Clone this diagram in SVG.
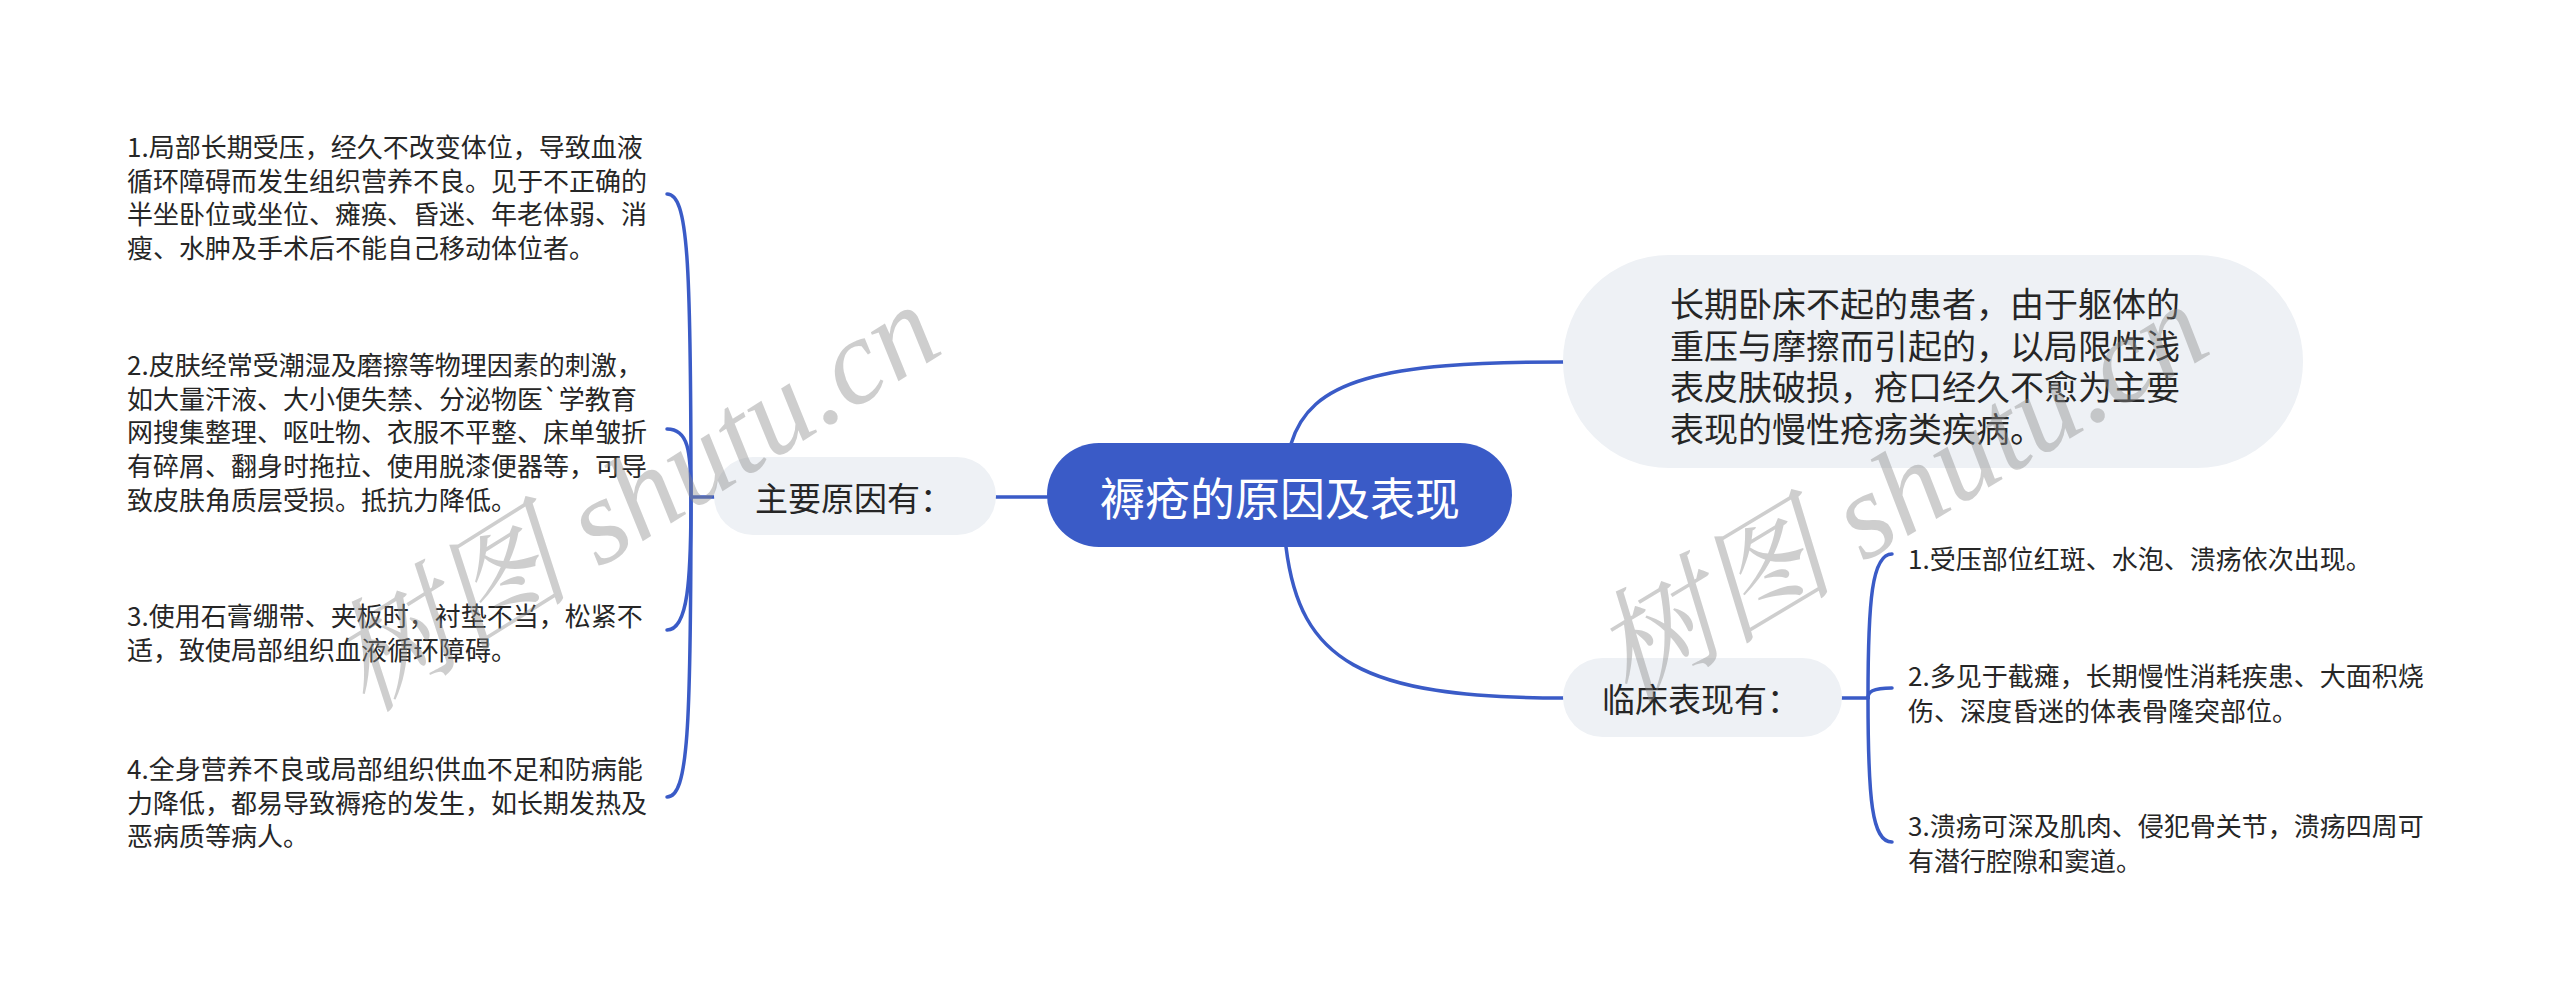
<svg xmlns="http://www.w3.org/2000/svg" width="2560" height="1000" viewBox="0 0 2560 1000">
<style>
.t{font-family:"Noto Sans CJK SC","Noto Sans",sans-serif;fill:#262626;dominant-baseline:central}
.leaf{font-size:26px}
.sub{font-size:33px}
.big{font-size:34px}
.gray{fill:#eef1f5}
.conn{fill:none;stroke:#3a5bc7;stroke-width:3.5;stroke-linecap:round}
.wm{font-family:"Liberation Serif","Noto Serif CJK SC","Noto Sans CJK SC",serif;font-style:italic;font-size:122px;fill:#8a8a8a;fill-opacity:0.42}
</style>
<rect width="2560" height="1000" fill="#ffffff"/>
<g id="connectors">
<path class="conn" d="M1047,497 L996,497"/>
<path class="conn" d="M1291,444 C1310,380 1380,362 1563,362"/>
<path class="conn" d="M1286,547 C1300,660 1360,698 1563,698"/>
<path class="conn" d="M714,497 L691,497"/>
<path class="conn" d="M691,497 C691,260 688,194 667,194"/>
<path class="conn" d="M691,497 C691,450 688,429 667,429"/>
<path class="conn" d="M691,497 C691,580 688,630 667,630"/>
<path class="conn" d="M691,497 C691,730 688,797 667,797"/>
<path class="conn" d="M1842,698 L1868,698"/>
<path class="conn" d="M1868,698 C1868,600 1872,554 1892,554"/>
<path class="conn" d="M1868,698 C1868,692 1872,688 1892,688"/>
<path class="conn" d="M1868,698 C1868,800 1872,842 1892,842"/>
</g>
<g id="root">
<rect x="1047" y="443" width="465" height="104" rx="52" fill="#3a5bc7"/>
<text class="t" x="1280" y="496" text-anchor="middle" style="font-size:45px;fill:#ffffff">褥疮的原因及表现</text>
</g>
<g id="causes">
<rect class="gray" x="714" y="457" width="282" height="78" rx="39"/>
<text class="t sub" x="755" y="497">主要原因有：</text>
</g>
<g id="definition">
<rect class="gray" x="1563" y="255" width="740" height="213" rx="106"/>
<text class="t big" x="1670"><tspan x="1670" y="302">长期卧床不起的患者，由于躯体的</tspan><tspan x="1670" y="343.7">重压与摩擦而引起的，以局限性浅</tspan><tspan x="1670" y="385.4">表皮肤破损，疮口经久不愈为主要</tspan><tspan x="1670" y="427">表现的慢性疮疡类疾病。</tspan></text>
</g>
<g id="clinical">
<rect class="gray" x="1563" y="658" width="279" height="79" rx="39.5"/>
<text class="t sub" x="1602" y="698">临床表现有：</text>
</g>
<g id="cause1">
<text class="t leaf"><tspan x="127" y="145">1.局部长期受压，经久不改变体位，导致血液</tspan><tspan x="127" y="178.7">循环障碍而发生组织营养不良。见于不正确的</tspan><tspan x="127" y="212.4">半坐卧位或坐位、瘫痪、昏迷、年老体弱、消</tspan><tspan x="127" y="246">瘦、水肿及手术后不能自己移动体位者。</tspan></text>
</g>
<g id="cause2">
<text class="t leaf"><tspan x="127" y="363">2.皮肤经常受潮湿及磨擦等物理因素的刺激，</tspan><tspan x="127" y="396.7">如大量汗液、大小便失禁、分泌物医`学教育</tspan><tspan x="127" y="430.4">网搜集整理、呕吐物、衣服不平整、床单皱折</tspan><tspan x="127" y="464">有碎屑、翻身时拖拉、使用脱漆便器等，可导</tspan><tspan x="127" y="497.8">致皮肤角质层受损。抵抗力降低。</tspan></text>
</g>
<g id="cause3">
<text class="t leaf"><tspan x="127" y="614">3.使用石膏绷带、夹板时，衬垫不当，松紧不</tspan><tspan x="127" y="648">适，致使局部组织血液循环障碍。</tspan></text>
</g>
<g id="cause4">
<text class="t leaf"><tspan x="127" y="767">4.全身营养不良或局部组织供血不足和防病能</tspan><tspan x="127" y="800.5">力降低，都易导致褥疮的发生，如长期发热及</tspan><tspan x="127" y="834">恶病质等病人。</tspan></text>
</g>
<g id="sign1">
<text class="t leaf" x="1908" y="557">1.受压部位红斑、水泡、溃疡依次出现。</text>
</g>
<g id="sign2">
<text class="t leaf"><tspan x="1908" y="674">2.多见于截瘫，长期慢性消耗疾患、大面积烧</tspan><tspan x="1908" y="709">伤、深度昏迷的体表骨隆突部位。</tspan></text>
</g>
<g id="sign3">
<text class="t leaf"><tspan x="1908" y="824">3.溃疡可深及肌肉、侵犯骨关节，溃疡四周可</tspan><tspan x="1908" y="859">有潜行腔隙和窦道。</tspan></text>
</g>
<g id="watermarks">
<text class="wm" x="366" y="714" transform="rotate(-32 366 714)">树图 shutu.cn</text>
<text class="wm" x="1628" y="704" transform="rotate(-31 1628 704)">树图 shutu.cn</text>
</g>
</svg>
